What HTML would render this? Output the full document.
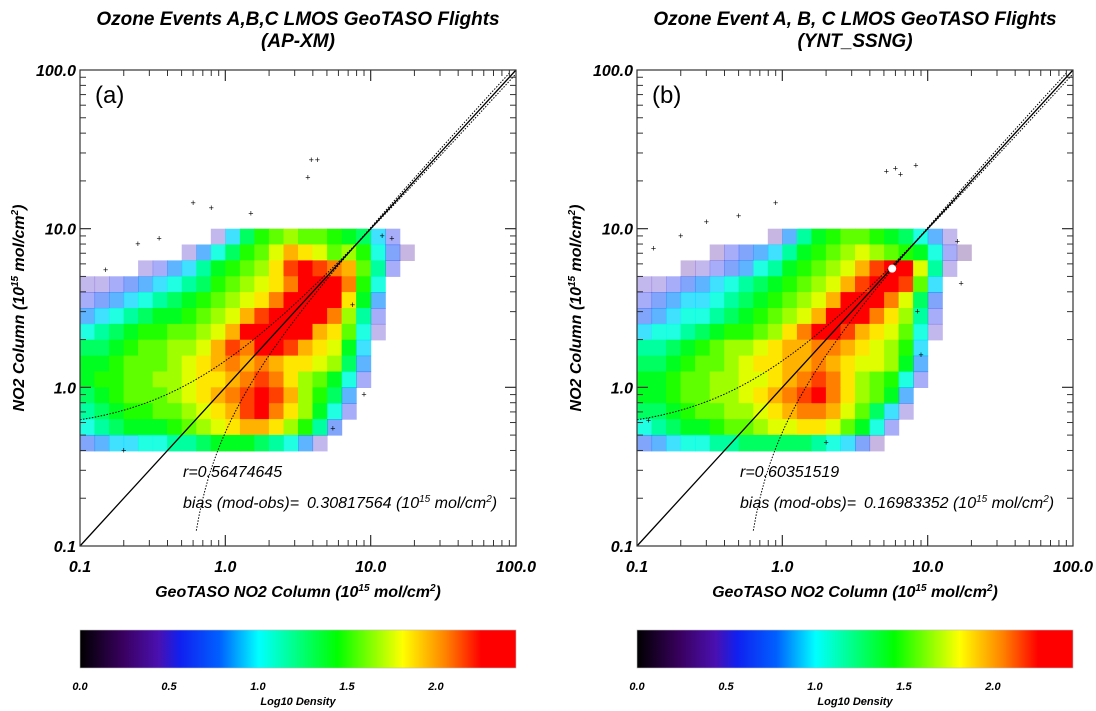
<!DOCTYPE html>
<html><head><meta charset="utf-8">
<style>
html,body{margin:0;padding:0;background:#fff;}
svg{display:block;font-family:"Liberation Sans",sans-serif;}
.t{font-weight:bold;font-style:italic;}
</style></head>
<body>
<svg id="chart" width="1096" height="711" viewBox="0 0 1096 711" xmlns="http://www.w3.org/2000/svg">
<defs>
<linearGradient id="cbar" x1="0" x2="1" y1="0" y2="0">
<stop offset="0" stop-color="#000000"/><stop offset="0.1" stop-color="#3a0060"/>
<stop offset="0.18" stop-color="#4a10b0"/><stop offset="0.23" stop-color="#1020f0"/>
<stop offset="0.32" stop-color="#0060ff"/><stop offset="0.41" stop-color="#00ffff"/>
<stop offset="0.59" stop-color="#00ff00"/><stop offset="0.74" stop-color="#ffff00"/>
<stop offset="0.84" stop-color="#ff8000"/><stop offset="0.92" stop-color="#ff0000"/>
<stop offset="1" stop-color="#ff0000"/>
</linearGradient>
</defs>
</svg>
<script>
// data: log10 density grids, rows from ly=0.9 (top) to ly=-0.4; columns lx=-1.0..1.2 step 0.1
const colLogX = [-1.0,-0.9,-0.8,-0.7,-0.6,-0.5,-0.4,-0.3,-0.2,-0.1,0.0,0.1,0.2,0.3,0.4,0.5,0.6,0.7,0.8,0.9,1.0,1.1,1.2];
const rowLogY = [0.9,0.8,0.7,0.6,0.5,0.4,0.3,0.2,0.1,0.0,-0.1,-0.2,-0.3,-0.4];
const gridA = [
[0,0,0,0,0,0,0,0,0,0.5,0.9,1.2,1.4,1.5,1.6,1.5,1.5,1.4,1.3,1.2,0.9,0.6,0],
[0,0,0,0,0,0,0,0.5,0.8,1.0,1.2,1.4,1.5,1.7,1.9,1.8,1.7,1.5,1.6,1.4,1.0,0.7,0.4],
[0,0,0,0,0.5,0.6,0.8,0.9,1.1,1.3,1.4,1.5,1.6,1.8,2.1,2.3,2.1,2.0,1.9,1.5,1.1,0.6,0],
[0.5,0.5,0.6,0.7,0.8,0.9,1.0,1.1,1.2,1.4,1.5,1.6,1.7,1.8,2.0,2.3,2.4,2.4,2.0,1.4,1.0,0,0],
[0.6,0.7,0.8,0.9,1.0,1.1,1.2,1.3,1.4,1.5,1.6,1.7,1.8,2.0,2.2,2.4,2.4,2.3,1.8,1.3,0.8,0,0],
[0.8,0.9,1.0,1.1,1.2,1.3,1.3,1.4,1.5,1.6,1.7,1.9,2.1,2.3,2.4,2.4,2.2,2.0,1.6,1.1,0.6,0,0],
[1.0,1.1,1.2,1.3,1.4,1.4,1.5,1.5,1.6,1.7,1.9,2.3,2.4,2.4,2.4,2.2,1.9,1.8,1.5,1.0,0.5,0,0],
[1.2,1.2,1.3,1.4,1.5,1.5,1.6,1.6,1.7,1.9,2.1,2.0,2.2,2.3,2.1,1.9,1.8,1.7,1.3,0.9,0,0,0],
[1.3,1.3,1.4,1.5,1.5,1.5,1.6,1.7,1.8,1.9,2.0,1.9,2.0,1.9,1.8,1.8,1.7,1.6,1.2,0.8,0,0,0],
[1.3,1.4,1.4,1.5,1.5,1.6,1.6,1.7,1.8,1.8,1.9,2.0,2.1,2.0,1.8,1.6,1.5,1.3,1.0,0.6,0,0,0],
[1.2,1.3,1.4,1.5,1.5,1.5,1.6,1.7,1.8,1.9,2.0,2.1,2.3,2.1,1.9,1.6,1.4,1.2,0.8,0,0,0,0],
[1.1,1.2,1.3,1.4,1.4,1.5,1.5,1.6,1.7,1.8,1.9,2.1,2.2,2.0,1.8,1.6,1.3,1.0,0.6,0,0,0,0],
[1.0,1.1,1.2,1.3,1.3,1.3,1.4,1.5,1.6,1.7,1.8,1.9,1.9,1.8,1.6,1.4,1.1,0.7,0,0,0,0,0],
[0.7,0.8,0.9,0.9,1.0,1.0,1.1,1.1,1.2,1.3,1.3,1.3,1.2,1.1,1.0,0.8,0.5,0,0,0,0,0,0]
];
const gridB = [
[0,0,0,0,0,0,0,0,0,0.4,0.8,1.1,1.3,1.4,1.5,1.5,1.4,1.3,1.2,1.0,0.8,0.5,0],
[0,0,0,0,0,0.4,0.6,0.7,0.8,0.9,1.1,1.3,1.4,1.5,1.6,1.7,1.6,1.5,1.4,1.3,1.0,0.6,0.3],
[0,0,0,0.4,0.5,0.6,0.7,0.8,1.0,1.1,1.3,1.4,1.5,1.6,1.7,1.9,2.1,2.4,2.3,1.7,1.1,0.5,0],
[0.5,0.5,0.6,0.7,0.8,0.9,1.0,1.1,1.2,1.3,1.4,1.5,1.6,1.7,1.9,2.1,2.3,2.4,2.1,1.5,0.9,0,0],
[0.6,0.7,0.8,0.9,0.9,1.0,1.1,1.2,1.3,1.4,1.5,1.6,1.7,1.9,2.2,2.3,2.3,2.0,1.7,1.2,0.7,0,0],
[0.7,0.8,0.9,1.0,1.0,1.1,1.2,1.3,1.4,1.5,1.6,1.7,1.9,2.2,2.3,2.2,2.0,1.8,1.6,1.1,0.6,0,0],
[0.9,1.0,1.0,1.1,1.2,1.3,1.4,1.4,1.5,1.6,1.8,2.0,2.2,2.3,2.1,1.9,1.8,1.7,1.5,1.0,0.5,0,0],
[1.1,1.1,1.2,1.3,1.4,1.5,1.6,1.6,1.7,1.8,1.9,1.9,2.0,2.0,1.9,1.8,1.7,1.6,1.4,0.9,0,0,0],
[1.2,1.2,1.3,1.4,1.5,1.5,1.6,1.7,1.8,1.8,1.9,1.9,2.0,1.9,1.8,1.7,1.7,1.6,1.3,0.8,0,0,0],
[1.3,1.3,1.4,1.5,1.5,1.6,1.6,1.7,1.7,1.8,1.9,2.0,2.1,2.0,1.8,1.6,1.5,1.4,1.0,0.6,0,0,0],
[1.3,1.3,1.4,1.5,1.5,1.6,1.6,1.7,1.8,1.9,2.0,2.1,2.2,2.0,1.8,1.6,1.5,1.3,0.8,0,0,0,0],
[1.2,1.2,1.3,1.4,1.5,1.5,1.6,1.6,1.7,1.8,1.9,2.0,2.0,1.9,1.7,1.5,1.2,0.9,0.5,0,0,0,0],
[1.0,1.1,1.2,1.3,1.3,1.4,1.5,1.5,1.6,1.7,1.7,1.8,1.8,1.7,1.5,1.3,1.0,0.6,0,0,0,0,0],
[0.7,0.8,0.9,1.0,1.0,1.1,1.1,1.2,1.2,1.2,1.2,1.2,1.1,1.0,0.9,0.7,0.4,0,0,0,0,0,0]
];
// outlier points (x, y in 10^15 mol/cm2)
const outlierXA = [3.9,4.3,3.7,0.6,0.8,1.5,0.35,0.25,0.15,12,14,7.5,9,5.5,0.2];
const outlierYA = [27,27,21,14.5,13.5,12.5,8.7,8.0,5.5,9.0,8.7,3.3,0.9,0.55,0.4];
const outlierXB = [5.2,6.0,6.5,8.3,0.9,0.5,0.3,0.2,0.13,16,17,8.5,9.0,0.12,2.0];
const outlierYB = [23,24,22,25,14.5,12,11,9,7.5,8.3,4.5,3.0,1.6,0.62,0.45];
const axisTicks = [0.1,1,10,100];
const axisTickLabels = ["0.1","1.0","10.0","100.0"];
const cbarTicks = [0,0.5,1.0,1.5,2.0];
const cbarLabels = ["0.0","0.5","1.0","1.5","2.0"];
const cbarMax = 2.45;

const NS="http://www.w3.org/2000/svg";
const svg=document.getElementById('chart');
function mk(tag,attrs,parent,text){const e=document.createElementNS(NS,tag);for(const k in attrs)e.setAttribute(k,attrs[k]);if(text!==undefined)e.textContent=text;(parent||svg).appendChild(e);return e;}
const stops=[[0,[0,0,0]],[0.25,[58,0,96]],[0.45,[74,16,176]],[0.6,[16,32,240]],[0.75,[0,96,255]],[0.95,[0,255,255]],[1.35,[0,255,0]],[1.75,[255,255,0]],[2.0,[255,128,0]],[2.2,[255,0,0]],[2.5,[255,0,0]]];
function cmap(v){for(let i=1;i<stops.length;i++){if(v<=stops[i][0]){const a=stops[i-1],b=stops[i];const t=(v-a[0])/(b[0]-a[0]);const c=a[1].map((x,j)=>Math.round(x+(b[1][j]-x)*t));return `rgb(${c[0]},${c[1]},${c[2]})`;}}return 'rgb(255,0,0)';}

function panel(ox,id,title1,title2,grid,ox_,oy_,rtxt,btxt){
  const L=80+ox,R=516+ox,T=70,B=546;
  const X=v=>L+(Math.log10(v)+1)/3*(R-L);
  const Y=v=>B-(Math.log10(v)+1)/3*(B-T);
  const XL=l=>L+(l+1)/3*(R-L), YL=l=>B-(l+1)/3*(B-T);
  const g=mk('g',{},svg);
  
  
  const t1=mk('text',{x:(L+R)/2,y:25,'text-anchor':'middle','font-size':19,class:'t'},g,title1);
   
  const t2=mk('text',{x:(L+R)/2,y:47,'text-anchor':'middle','font-size':19,class:'t'},g,title2);
   
  const cells=mk('g',{},g);
   
  for(let r=0;r<rowLogY.length;r++)for(let c=0;c<colLogX.length;c++){
    const v=grid[r][c]; if(!v) continue;
    const x0=XL(colLogX[c]),x1=XL(colLogX[c]+0.1),y0=YL(rowLogY[r]+0.1),y1=YL(rowLogY[r]);
    const op=v<1.1?Math.max(0.3,Math.min(1,(v-0.3)/0.8)):1;
    const e=mk('rect',{x:x0.toFixed(1),y:y0.toFixed(1),width:(x1-x0+0.6).toFixed(1),height:(y1-y0+0.6).toFixed(1),fill:cmap(v),'fill-opacity':op.toFixed(2)},cells);
    
    
  }
  for(let i=0;i<ox_.length;i++){
    const e=mk('text',{x:X(ox_[i]),y:Y(oy_[i])+3,'text-anchor':'middle','font-size':9,fill:'#000'},g,'+');
    
    
  }
  const one=mk('line',{x1:X(0.1),y1:Y(0.1),x2:X(100),y2:Y(100),stroke:'#000','stroke-width':1.3},g);
   
  let p1='',p2='';
  for(let l=-1;l<=2.001;l+=0.02){const x=Math.pow(10,l);const y=0.53+0.94*x;if(y<=100)p1+=(p1?'L':'M')+X(x).toFixed(1)+','+Y(y).toFixed(1);
    const y2=1.07*x-0.55;if(y2>=0.1&&y2<=100)p2+=(p2?'L':'M')+X(x).toFixed(1)+','+Y(y2).toFixed(1);}
  const f1=mk('path',{d:p1,fill:'none',stroke:'#000','stroke-width':1,'stroke-dasharray':'1.5,1.5'},g);
   
  const f2=mk('path',{d:p2,fill:'none',stroke:'#000','stroke-width':1,'stroke-dasharray':'1.5,1.5'},g);
   
  const fr=mk('rect',{x:L,y:T,width:R-L,height:B-T,fill:'none',stroke:'#333','stroke-width':1.2},g);
   
  for(let d=0;d<3;d++)for(let k=1;k<=10;k++){
    const v=Math.pow(10,d-1)*k; const len=k===1||k===10?11:6;
    const xp=X(v),yp=Y(v);
    mk('line',{x1:xp,y1:B,x2:xp,y2:B-len,stroke:'#333'},g);
    mk('line',{x1:xp,y1:T,x2:xp,y2:T+len,stroke:'#333'},g);
    mk('line',{x1:L,y1:yp,x2:L+len,y2:yp,stroke:'#333'},g);
    mk('line',{x1:R,y1:yp,x2:R-len,y2:yp,stroke:'#333'},g);
  }
  for(let i=0;i<axisTicks.length;i++){
    const xl=mk('text',{x:X(axisTicks[i]),y:572,'text-anchor':'middle','font-size':16,class:'t'},g,axisTickLabels[i]);
     
    const yl=mk('text',{x:L-4,y:Y(axisTicks[i])+6,'text-anchor':'end','font-size':16,class:'t'},g,axisTickLabels[i]);
     
  }
  const xt=mk('text',{x:(L+R)/2,y:597,'text-anchor':'middle','font-size':16,class:'t'},g);
  xt.innerHTML='GeoTASO NO2 Column (10<tspan dy="-6" font-size="10">15</tspan><tspan dy="6"> mol/cm</tspan><tspan dy="-6" font-size="10">2</tspan><tspan dy="6">)</tspan>';
   
  const yt=mk('text',{x:0,y:0,'text-anchor':'middle','font-size':16,class:'t',transform:`translate(${L-56},${(T+B)/2}) rotate(-90)`},g);
  yt.innerHTML='NO2 Column (10<tspan dy="-6" font-size="10">15</tspan><tspan dy="6"> mol/cm</tspan><tspan dy="-6" font-size="10">2</tspan><tspan dy="6">)</tspan>';
   
  const pl=mk('text',{x:L+15,y:103,'font-size':24},g,'('+id+')');
   
  const rt=mk('text',{x:L+103,y:477,'font-size':16,'font-style':'italic'},g,rtxt);
   
  const bt=mk('text',{x:L+103,y:508,'font-size':16,'font-style':'italic'},g,'bias (mod-obs)=');
   
  const bv=mk('text',{x:L+227,y:508,'font-size':16,'font-style':'italic'},g);
  bv.innerHTML=btxt+' (10<tspan dy="-6" font-size="10">15</tspan><tspan dy="6"> mol/cm</tspan><tspan dy="-6" font-size="10">2</tspan><tspan dy="6">)</tspan>';
   
  const cb=mk('rect',{x:L,y:630,width:R-L,height:38,fill:'url(#cbar)',stroke:'#bbb','stroke-width':0.6},g);
   
  for(let i=0;i<cbarTicks.length;i++){
    const e=mk('text',{x:L+cbarTicks[i]/cbarMax*(R-L),y:690,'text-anchor':'middle','font-size':11,class:'t'},g,cbarLabels[i]);
     
  }
  const ct=mk('text',{x:(L+R)/2,y:705,'text-anchor':'middle','font-size':11,class:'t'},g,'Log10 Density');
   
  if(id==='b'){const w=mk('circle',{cx:X(5.7),cy:Y(5.6),r:4,fill:'#fff'},g);
     }
}
panel(0,'a','Ozone Events A,B,C LMOS GeoTASO Flights','(AP-XM)',gridA,outlierXA,outlierYA,'r=0.56474645','0.30817564');
panel(557,'b','Ozone Event A, B, C LMOS GeoTASO Flights','(YNT_SSNG)',gridB,outlierXB,outlierYB,'r=0.60351519','0.16983352');
</script>
</body></html>
